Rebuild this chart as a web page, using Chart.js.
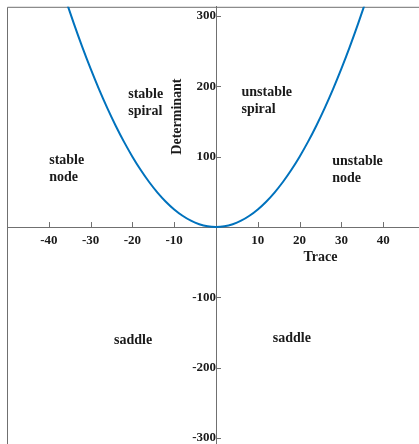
<!DOCTYPE html>
<html>
<head>
<meta charset="utf-8">
<script src="https://cdn.jsdelivr.net/npm/chart.js@4.4.1/dist/chart.umd.min.js"></script>
<style>
  html, body { margin: 0; padding: 0; background: #fff; overflow: hidden; }
  #wrap { position: absolute; left: 0; top: -7px; width: 440px; height: 473px; }
</style>
</head>
<body>
<div id="wrap"><canvas id="phaseChart"></canvas></div>
<script>
// trace / determinant pairs along the boundary curve
const trace = [-36, -34, -32, -30, -28, -26, -24, -22, -20, -18, -16, -14, -12, -10, -8, -6, -4, -2, 0,
               2, 4, 6, 8, 10, 12, 14, 16, 18, 20, 22, 24, 26, 28, 30, 32, 34, 36];
const determinant = [324, 289, 256, 225, 196, 169, 144, 121, 100, 81, 64, 49, 36, 25, 16, 9, 4, 1, 0,
                     1, 4, 9, 16, 25, 36, 49, 64, 81, 100, 121, 144, 169, 196, 225, 256, 289, 324];

const xTicks = [-40, -30, -20, -10, 10, 20, 30, 40];
const yTicks = [-300, -200, -100, 100, 200, 300];

// region names, anchored at (trace, determinant) of the first line
const regionLines = [['stable', 'spiral'], ['unstable', 'spiral'], ['stable', 'node'],
                     ['unstable', 'node'], ['saddle'], ['saddle']];
const regionTrace = [-21, 6.1, -39.9, 27.8, -24.4, 13.6];
const regionDet = [189, 191.5, 94.7, 93.3, -161.7, -158.9];

const axisColor = '#707070';
const textColor = '#1a1a1a';
const serif = '"Liberation Serif", "Times New Roman", serif';

const decorations = {
    id: 'decorations',
    beforeDatasetsDraw(chart) {
        const {ctx, chartArea, scales: {x, y}} = chart;
        const x0 = x.getPixelForValue(0);
        const y0 = y.getPixelForValue(0);
        ctx.save();
        ctx.strokeStyle = axisColor;
        ctx.lineWidth = 1;
        // box edges (top and left)
        ctx.beginPath();
        ctx.moveTo(chartArea.left + 0.5, chartArea.bottom);
        ctx.lineTo(chartArea.left + 0.5, chartArea.top + 0.5);
        ctx.lineTo(chartArea.right, chartArea.top + 0.5);
        ctx.stroke();
        // inward tick marks
        ctx.beginPath();
        xTicks.forEach(v => {
            const px = Math.round(x.getPixelForValue(v)) + 0.5;
            ctx.moveTo(px, y0);
            ctx.lineTo(px, y0 - 5);
        });
        yTicks.forEach(v => {
            const py = Math.round(y.getPixelForValue(v)) + 0.5;
            ctx.moveTo(x0, py);
            ctx.lineTo(x0 + 5, py);
        });
        ctx.stroke();
        ctx.restore();
    },
    afterDatasetsDraw(chart) {
        const {ctx, scales: {x, y}} = chart;
        ctx.save();
        ctx.fillStyle = textColor;
        ctx.font = 'bold 14px ' + serif;
        ctx.textBaseline = 'middle';
        ctx.textAlign = 'left';
        regionLines.forEach((lines, i) => {
            const px = x.getPixelForValue(regionTrace[i]);
            const py = y.getPixelForValue(regionDet[i]);
            lines.forEach((t, j) => ctx.fillText(t, px, py + j * 17));
        });
        // axis titles
        ctx.textAlign = 'center';
        ctx.fillText('Trace', x.getPixelForValue(25), y.getPixelForValue(0) + 30);
        ctx.translate(x.getPixelForValue(0) - 39, y.getPixelForValue(157));
        ctx.rotate(-Math.PI / 2);
        ctx.fillText('Determinant', 0, 0);
        ctx.restore();
    }
};

new Chart(document.getElementById('phaseChart').getContext('2d'), {
    type: 'line',
    data: {
        datasets: [{
            data: trace.map((t, i) => ({x: t, y: determinant[i]})),
            borderColor: '#0072BD',
            borderWidth: 2,
            pointRadius: 0,
            cubicInterpolationMode: 'monotone',
            fill: false
        }]
    },
    options: {
        responsive: true,
        maintainAspectRatio: false,
        animation: false,
        layout: { padding: { left: 7, top: 0, right: 15, bottom: 0 } },
        plugins: { legend: { display: false }, tooltip: { enabled: false } },
        scales: {
            x: {
                type: 'linear',
                min: -50,
                max: 50,
                position: { y: 0 },
                afterBuildTicks: s => { s.ticks = xTicks.map(v => ({value: v})); },
                grid: { drawOnChartArea: false, drawTicks: false },
                border: { color: axisColor },
                ticks: {
                    padding: 6,
                    color: textColor,
                    font: { family: serif, size: 13, weight: 'bold' }
                }
            },
            y: {
                type: 'linear',
                min: -320,
                max: 313,
                position: { x: 0 },
                afterBuildTicks: s => { s.ticks = yTicks.map(v => ({value: v})); },
                grid: { drawOnChartArea: false, drawTicks: false },
                border: { color: axisColor },
                ticks: {
                    padding: 6,
                    color: textColor,
                    font: { family: serif, size: 13, weight: 'bold' }
                }
            }
        }
    },
    plugins: [decorations]
});
</script>
</body>
</html>
